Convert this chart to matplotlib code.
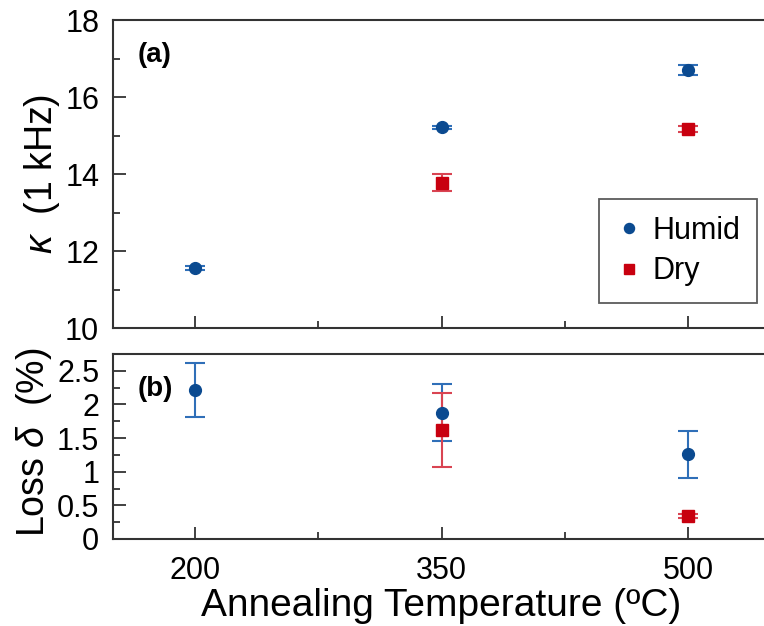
import matplotlib
matplotlib.use("Agg")
import matplotlib.pyplot as plt
from matplotlib.ticker import MultipleLocator, FixedLocator

plt.rcParams['font.family'] = ['Liberation Sans', 'DejaVu Sans']
plt.rcParams['mathtext.fontset'] = 'custom'
plt.rcParams['mathtext.it'] = 'Liberation Sans:italic'

temps = [200, 350, 500]
minor_temps = [275, 425]

# dielectric constant at 1 kHz
kappa_humid = [11.55, 15.21, 16.70]
kappa_humid_err = [0.05, 0.05, 0.12]
kappa_dry_t = [350, 500]
kappa_dry = [13.77, 15.17]
kappa_dry_err = [0.22, 0.08]

# loss tangent (%)
loss_humid = [2.22, 1.88, 1.26]
loss_humid_err = [0.40, 0.42, 0.35]
loss_dry_t = [350, 500]
loss_dry = [1.62, 0.34]
loss_dry_err = [0.55, 0.03]

BLUE = '#0b4a90'
BLUE_BAR = '#2f6fb8'
RED = '#c8000f'
RED_BAR = '#d94452'
SPINE = '#333333'

fig = plt.figure(figsize=(7.64, 6.26), dpi=100)
ax1 = fig.add_axes([0.148, 0.476, 0.86, 0.492])
ax2 = fig.add_axes([0.148, 0.139, 0.86, 0.2955])


def style(ax):
    for s in ax.spines.values():
        s.set_linewidth(1.5)
        s.set_color(SPINE)
    ax.spines['right'].set_visible(False)
    ax.tick_params(which='both', direction='in', width=1.3, color=SPINE,
                   labelsize=22, top=False, right=False)
    ax.tick_params(axis='y', which='both', pad=10)
    ax.tick_params(axis='x', which='both', pad=12)
    ax.tick_params(which='major', length=9)
    ax.tick_params(which='minor', length=5)
    ax.set_xlim(150, 550)
    ax.set_xticks(temps)
    ax.xaxis.set_minor_locator(FixedLocator(minor_temps))


ebar_kw = dict(linestyle='none', capsize=7, elinewidth=1.5, capthick=1.5)

# (a) kappa
style(ax1)
ax1.errorbar(temps, kappa_humid, yerr=kappa_humid_err, fmt='o', ms=8.5,
             color=BLUE, ecolor=BLUE_BAR, label='Humid', **ebar_kw)
ax1.errorbar(kappa_dry_t, kappa_dry, yerr=kappa_dry_err, fmt='s', ms=8,
             color=RED, ecolor=RED_BAR, label='Dry', **ebar_kw)
ax1.set_ylim(10, 18)
ax1.yaxis.set_major_locator(MultipleLocator(2))
ax1.yaxis.set_minor_locator(MultipleLocator(1))
ax1.tick_params(axis='x', labelbottom=False)
ax1.set_ylabel(r'$\mathit{\kappa}$  (1 kHz)', fontsize=27)
ax1.yaxis.set_label_coords(-0.078, 0.5)
ax1.text(0.038, 0.886, '(a)', transform=ax1.transAxes, fontsize=20,
         fontweight='bold', va='center')
handles, labels = ax1.get_legend_handles_labels()
leg = ax1.legend([h[0] for h in handles], labels, loc='lower right',
                 bbox_to_anchor=(0.98, 0.081), fontsize=22, frameon=True,
                 fancybox=False, edgecolor=SPINE, handletextpad=0.3,
                 handlelength=0.9, borderpad=0.55, labelspacing=0.35,
                 borderaxespad=0, markerscale=0.85)
leg.get_frame().set_linewidth(1.3)

# (b) loss
style(ax2)
ax2.errorbar(temps, loss_humid, yerr=loss_humid_err, fmt='o', ms=8.5,
             color=BLUE, ecolor=BLUE_BAR, **ebar_kw)
ax2.errorbar(loss_dry_t, loss_dry, yerr=loss_dry_err, fmt='s', ms=8,
             color=RED, ecolor=RED_BAR, **ebar_kw)
ax2.set_ylim(0, 2.75)
ax2.set_yticks([0, 0.5, 1, 1.5, 2, 2.5])
ax2.set_yticklabels(['0', '0.5', '1', '1.5', '2', '2.5'])
ax2.yaxis.set_minor_locator(MultipleLocator(0.25))
ax2.set_ylabel(r'Loss $\mathit{\delta}$  (%)', fontsize=27)
ax2.yaxis.set_label_coords(-0.09, 0.52)
ax2.set_xlabel('Annealing Temperature (ºC)', fontsize=28, labelpad=2)
ax2.text(0.038, 0.81, '(b)', transform=ax2.transAxes, fontsize=20,
         fontweight='bold', va='center')

fig.savefig('out.png', dpi=100)
